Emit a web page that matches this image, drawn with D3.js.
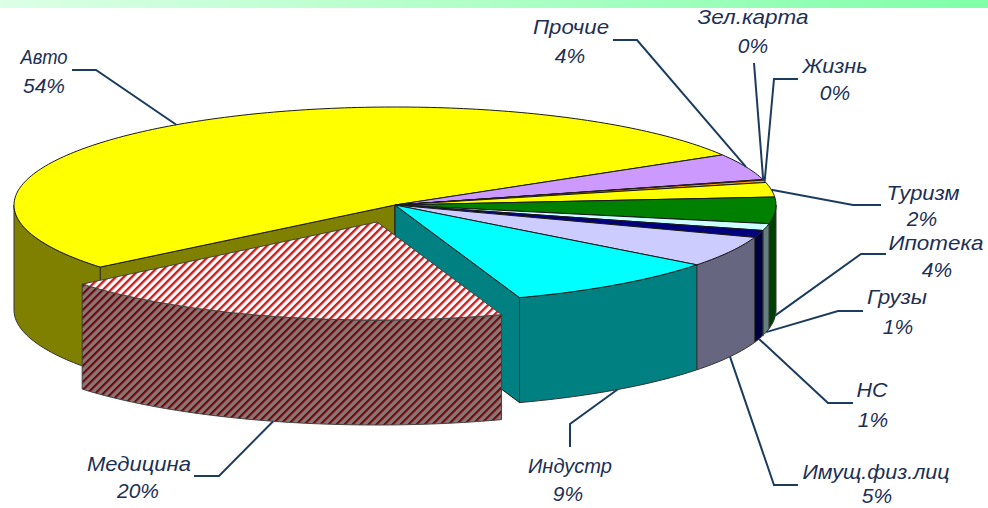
<!DOCTYPE html>
<html>
<head>
<meta charset="utf-8">
<script src="https://cdn.jsdelivr.net/npm/d3@7"></script>
<style>
  body { margin: 0; background: #fff; }
  text { font-family: "Liberation Sans", Arial, sans-serif; font-style: italic; font-size: 21px; fill: #1c2f55; }
</style>
</head>
<body>
<script>
// данные, по часовой стрелке начиная с Авто
var categories = ["Авто", "Прочие", "Зел.карта", "Жизнь", "Туризм", "Ипотека", "Грузы", "НС", "Имущ.физ.лиц", "Индустр", "Медицина"];
var values = [53.5, 4.45, 0.1, 0.4, 2.45, 4.45, 1.15, 1.2, 5.2, 9.45, 19.8];

var topColors = ["#ffff00", "#cc99ff", "#cccccc", "#ff9900", "#ffff00", "#008000", "#ccffff", "#000080", "#ccccff", "#00ffff", "url(#hatchTop)"];
var wallColors = ["#808000", "#664d80", "#666666", "#804d00", "#808000", "#004000", "#668080", "#000040", "#666680", "#008080", "url(#hatchWall)"];

// подписи: центр и базовая линия, ширина первой строки, излом выноски
var nameX = [44, 571, 753, 835, 923, 936, 897, 872, 876, 570, 139];
var nameY = [64, 34, 24, 73, 200, 250, 304, 397, 479, 473, 471];
var nameW = [47, 76, 111, 65, 73, 95, 60, 31, 147, 84, 104];
var pctX = [44, 570, 753, 835, 922, 937, 898, 873, 877, 568, 138];
var pctY = [93, 63, 53, 100, 226, 277, 334, 427, 503, 501, 498];
var elbows = [
  [[96, 70], [72, 70]],
  [[637, 40], [613, 40]],
  [[754, 63]],
  [[774, 79], [798, 79]],
  [[853, 205], [881, 205]],
  [[861, 254], [886, 254]],
  [[838, 311], [863, 311]],
  [[828, 403], [853, 403]],
  [[774, 485], [798, 485]],
  [[570, 424], [570, 447]],
  [[219, 476], [194, 476]]
];

var w = 988, h = 508;
var cx = 395, cy = 205, rx = 381, ry = 98, depth = 105;
var medDx = -18, medDy = 17; // смещение выдвинутого сектора Медицина
var medIndex = categories.indexOf("Медицина");

var x = d3.scaleLinear().domain([-1, 1]).range([cx - rx, cx + rx]);
var y = d3.scaleLinear().domain([-1, 1]).range([cy + ry, cy - ry]);

var rad = Math.PI / 180;
var pie = d3.pie().sort(null).startAngle(-129.3 * rad).endAngle(230.7 * rad);
var arcs = pie(values);

var svg = d3.select("body").append("svg").attr("width", w).attr("height", h).style("display", "block");
var defs = svg.append("defs");

var grad = defs.append("linearGradient").attr("id", "barGrad");
grad.append("stop").attr("offset", "0%").attr("stop-color", "#dcffe6");
grad.append("stop").attr("offset", "100%").attr("stop-color", "#80ffa8");

function hatch(id, bg, fg, t) {
  var p = defs.append("pattern").attr("id", id)
    .attr("patternUnits", "userSpaceOnUse")
    .attr("width", 5.66).attr("height", 5.66)
    .attr("patternTransform", "rotate(-45)");
  p.append("rect").attr("width", 5.66).attr("height", 5.66).attr("fill", bg);
  p.append("rect").attr("width", 5.66).attr("height", t).attr("fill", fg);
}
hatch("hatchTop", "#ffffff", "#cc1f1f", 2.4);
hatch("hatchWall", "#8a7878", "#700a0a", 2.2);

svg.append("rect").attr("width", w).attr("height", 8).attr("fill", "url(#barGrad)");

var line = d3.line().x(function(d) { return d[0]; }).y(function(d) { return d[1]; });

function pt(a, dz) {
  return [x(Math.sin(a)), y(Math.cos(a)) + (dz || 0)];
}
function arcPoints(a0, a1, dz) {
  var n = Math.max(2, Math.ceil((a1 - a0) / (1 * rad)));
  return d3.range(n + 1).map(function(i) {
    return pt(a0 + (a1 - a0) * i / n, dz);
  });
}
function topPath(d) {
  return line([[cx, cy]].concat(arcPoints(d.startAngle, d.endAngle, 0))) + "Z";
}
function wallPaths(d) {
  // видимая часть наружной стенки - только передняя половина эллипса
  var res = [];
  [[-270, -90], [90, 270]].forEach(function(win) {
    var a0 = Math.max(d.startAngle, win[0] * rad), a1 = Math.min(d.endAngle, win[1] * rad);
    if (a1 > a0) {
      var pts = arcPoints(a0, a1, 0).concat(arcPoints(a0, a1, depth).reverse());
      res.push(line(pts) + "Z");
    }
  });
  return res;
}
function cutPath(a) {
  var p = pt(a, 0);
  return line([[cx, cy], p, [p[0], p[1] + depth], [cx, cy + depth]]) + "Z";
}

var chart = svg.append("g").attr("stroke", "#1a1a1a").attr("stroke-width", 1).attr("stroke-linejoin", "round");

// срезы, открытые выдвинутым сектором
chart.append("path").attr("d", cutPath(arcs[0].startAngle)).attr("fill", wallColors[0]);
chart.append("path").attr("d", cutPath(arcs[9].endAngle)).attr("fill", wallColors[9]);

arcs.forEach(function(d, i) {
  if (i == medIndex) return;
  wallPaths(d).forEach(function(p) {
    chart.append("path").attr("d", p).attr("fill", wallColors[i]).attr("stroke", "#333");
  });
});
arcs.forEach(function(d, i) {
  if (i == medIndex) return;
  chart.append("path").attr("d", topPath(d)).attr("fill", topColors[i]);
});

// Медицина рисуется последней, поверх остальных
var med = chart.append("g").attr("transform", "translate(" + medDx + "," + medDy + ")");
wallPaths(arcs[medIndex]).forEach(function(p) {
  med.append("path").attr("d", p).attr("fill", wallColors[medIndex]).attr("stroke", "#444");
});
med.append("path").attr("d", topPath(arcs[medIndex])).attr("fill", topColors[medIndex]).attr("stroke", "#444");

// выноски: от середины дуги сектора к излому
var leaders = svg.append("g").attr("fill", "none").attr("stroke", "#1b3c5e").attr("stroke-width", 2);
arcs.forEach(function(d, i) {
  var mid = (d.startAngle + d.endAngle) / 2;
  var front = Math.cos(mid) < 0;
  var start = pt(mid, front ? depth : 0);
  if (i == medIndex) { start[0] += medDx; start[1] += medDy; }
  leaders.append("path").attr("d", line([start].concat(elbows[i])));
});

var labels = svg.append("g").attr("text-anchor", "middle");
categories.forEach(function(c, i) {
  labels.append("text").attr("x", nameX[i]).attr("y", nameY[i])
    .attr("textLength", nameW[i]).attr("lengthAdjust", "spacingAndGlyphs").text(c);
  labels.append("text").attr("x", pctX[i]).attr("y", pctY[i]).text(Math.round(values[i]) + "%");
});
</script>
</body>
</html>
